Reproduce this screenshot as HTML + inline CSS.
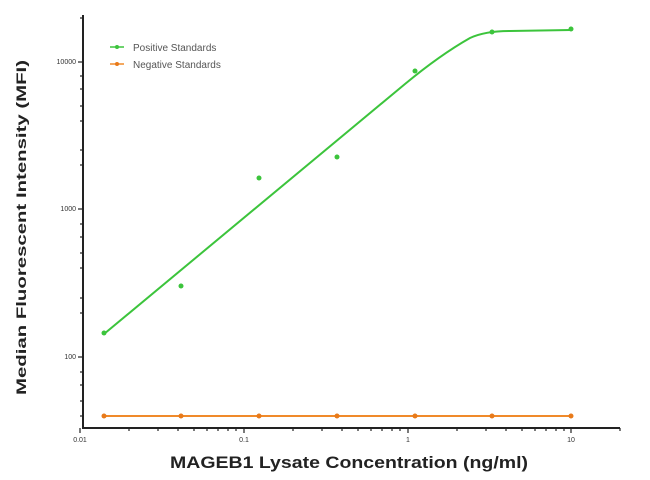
<!DOCTYPE html>
<html><head><style>body{margin:0;background:#fff}svg{display:block}</style></head><body>
<svg width="650" height="480" xmlns="http://www.w3.org/2000/svg" font-family="Liberation Sans, sans-serif">
<g stroke="#222" stroke-width="2" fill="none">
<line x1="83" y1="15" x2="83" y2="428"/>
<line x1="82" y1="428" x2="620" y2="428"/>
</g>
<g stroke="#222" stroke-width="1.2">
<line x1="78" y1="62" x2="83" y2="62"/><line x1="78" y1="209" x2="83" y2="209"/><line x1="78" y1="357" x2="83" y2="357"/>
<line x1="80" y1="18" x2="83" y2="18"/>
<line x1="80" y1="76" x2="83" y2="76"/><line x1="80" y1="89" x2="83" y2="89"/><line x1="80" y1="106" x2="83" y2="106"/><line x1="80" y1="121" x2="83" y2="121"/><line x1="80" y1="150" x2="83" y2="150"/><line x1="80" y1="165" x2="83" y2="165"/>
<line x1="80" y1="224" x2="83" y2="224"/><line x1="80" y1="237" x2="83" y2="237"/><line x1="80" y1="253" x2="83" y2="253"/><line x1="80" y1="268" x2="83" y2="268"/><line x1="80" y1="298" x2="83" y2="298"/><line x1="80" y1="313" x2="83" y2="313"/>
<line x1="80" y1="372" x2="83" y2="372"/><line x1="80" y1="385" x2="83" y2="385"/><line x1="80" y1="401" x2="83" y2="401"/><line x1="80" y1="416" x2="83" y2="416"/>
<line x1="80" y1="428" x2="80" y2="433"/><line x1="244" y1="428" x2="244" y2="433"/><line x1="408" y1="428" x2="408" y2="433"/><line x1="571" y1="428" x2="571" y2="433"/>
<line x1="129" y1="428" x2="129" y2="431"/><line x1="158" y1="428" x2="158" y2="431"/><line x1="178" y1="428" x2="178" y2="431"/><line x1="194" y1="428" x2="194" y2="431"/><line x1="207" y1="428" x2="207" y2="431"/><line x1="218" y1="428" x2="218" y2="431"/><line x1="228" y1="428" x2="228" y2="431"/><line x1="236" y1="428" x2="236" y2="431"/>
<line x1="293" y1="428" x2="293" y2="431"/><line x1="322" y1="428" x2="322" y2="431"/><line x1="342" y1="428" x2="342" y2="431"/><line x1="358" y1="428" x2="358" y2="431"/><line x1="371" y1="428" x2="371" y2="431"/><line x1="382" y1="428" x2="382" y2="431"/><line x1="392" y1="428" x2="392" y2="431"/><line x1="400" y1="428" x2="400" y2="431"/>
<line x1="457" y1="428" x2="457" y2="431"/><line x1="486" y1="428" x2="486" y2="431"/><line x1="506" y1="428" x2="506" y2="431"/><line x1="522" y1="428" x2="522" y2="431"/><line x1="535" y1="428" x2="535" y2="431"/><line x1="546" y1="428" x2="546" y2="431"/><line x1="556" y1="428" x2="556" y2="431"/><line x1="564" y1="428" x2="564" y2="431"/>
<line x1="620" y1="428" x2="620" y2="431"/>
</g>
<g font-size="7" fill="#333">
<text x="76" y="64" text-anchor="end">10000</text><text x="76" y="211" text-anchor="end">1000</text><text x="76" y="359" text-anchor="end">100</text>
<text x="80" y="442" text-anchor="middle">0.01</text><text x="244" y="442" text-anchor="middle">0.1</text><text x="408" y="442" text-anchor="middle">1</text><text x="571" y="442" text-anchor="middle">10</text>
</g>
<text x="170" y="468" textLength="358" lengthAdjust="spacingAndGlyphs" font-size="17" font-weight="bold" fill="#222">MAGEB1 Lysate Concentration (ng/ml)</text>
<text transform="translate(26,395) rotate(-90)" textLength="335" lengthAdjust="spacingAndGlyphs" font-size="14" font-weight="bold" fill="#222">Median  Fluorescent Intensity  (MFI)</text>
<path d="M104,334 L405,84 Q440,55 470,38 Q485,31 510,31 L571,30" stroke="#3cc43c" stroke-width="2" fill="none"/>
<g fill="#3cc43c"><circle cx="104" cy="333" r="2.5"/><circle cx="181" cy="286" r="2.5"/><circle cx="259" cy="178" r="2.5"/><circle cx="337" cy="157" r="2.5"/><circle cx="415" cy="71" r="2.5"/><circle cx="492" cy="32" r="2.5"/><circle cx="571" cy="29" r="2.5"/></g>
<line x1="104" y1="416" x2="571" y2="416" stroke="#f08a2a" stroke-width="2"/>
<g fill="#e87a1a"><circle cx="104" cy="416" r="2.5"/><circle cx="181" cy="416" r="2.5"/><circle cx="259" cy="416" r="2.5"/><circle cx="337" cy="416" r="2.5"/><circle cx="415" cy="416" r="2.5"/><circle cx="492" cy="416" r="2.5"/><circle cx="571" cy="416" r="2.5"/></g>
<line x1="110" y1="47" x2="124" y2="47" stroke="#3cc43c" stroke-width="1.5"/><circle cx="117" cy="47" r="2" fill="#3cc43c"/>
<line x1="110" y1="64" x2="124" y2="64" stroke="#f08a2a" stroke-width="1.5"/><circle cx="117" cy="64" r="2" fill="#e87a1a"/>
<g font-size="10" fill="#555"><text x="133" y="51">Positive Standards</text><text x="133" y="68">Negative Standards</text></g>
</svg>
</body></html>
